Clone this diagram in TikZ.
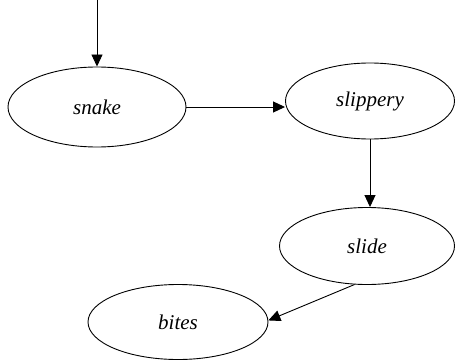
\documentclass[tikz,border=0pt]{standalone}
\usepackage{fontspec}
\setmainfont{Liberation Serif}[ItalicFont={Liberation Serif Italic}]
\newfontfamily\timesit{Liberation Serif Italic}
\usetikzlibrary{shapes.geometric,arrows.meta}
\begin{document}
\begin{tikzpicture}[x=1pt,y=-1pt,
  state/.style={draw,ellipse,line width=0.9pt,inner sep=0pt,font=\timesit\fontsize{21}{24}\selectfont},
  link/.style={draw,line width=0.9pt,-{Triangle[length=12pt,width=11pt]}}]
\useasboundingbox (0,0) rectangle (455,361);
\node[state,minimum width=178pt,minimum height=80pt] (snake) at (97,107) {snake};
\node[state,minimum width=169pt,minimum height=76pt] (slippery) at (370,101) {slippery};
\node[state,minimum width=175pt,minimum height=77pt] (slide) at (367,246) {slide};
\node[state,minimum width=180pt,minimum height=75pt] (bites) at (178,322) {bites};
\coordinate (start) at (97,0);
\path[link] (start) -- (snake.north);
\path[link] (snake.east) -- (snake.east -| slippery.west);
\path[link] (slippery.south) -- (slippery.south |- slide.north);
\path[link] (slide.252) -- (bites.1);
\end{tikzpicture}
\end{document}
